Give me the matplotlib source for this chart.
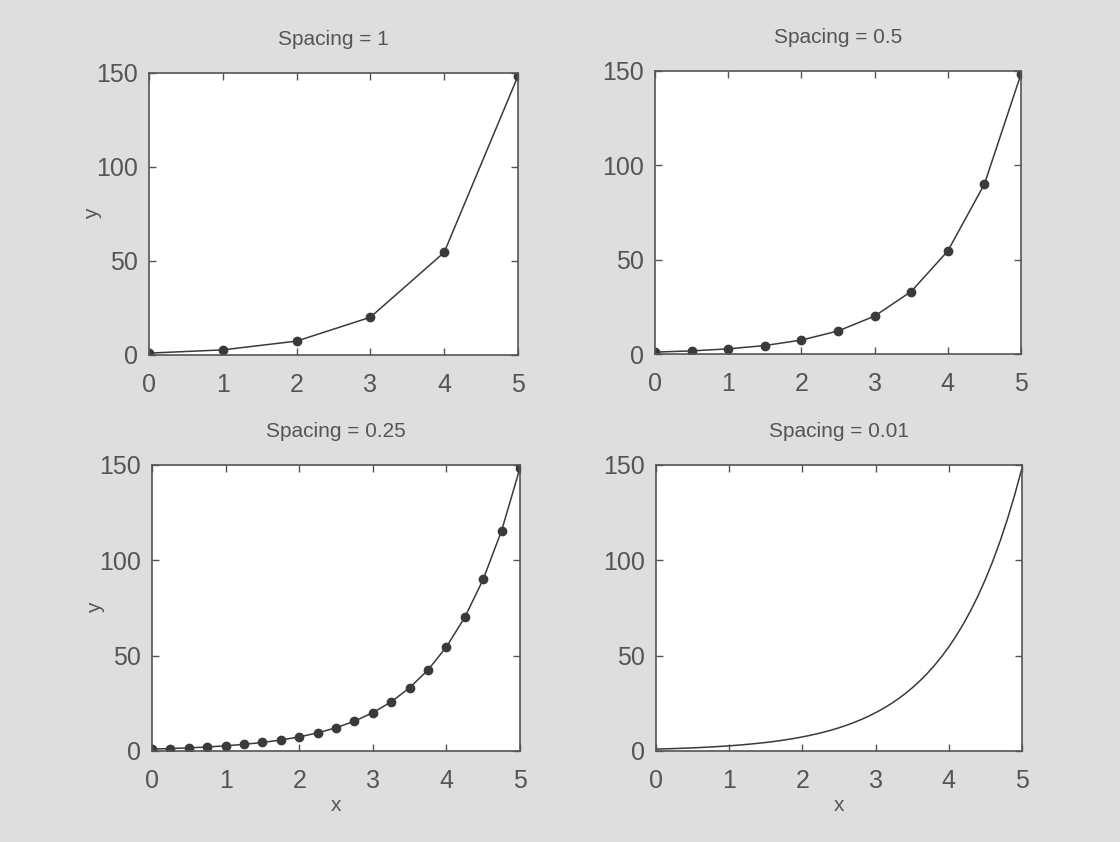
import matplotlib.pyplot as plt

plt.rcParams['font.family'] = ['Liberation Sans', 'DejaVu Sans']

# sampled y = e^x values at each step size
x_1 = [0, 1, 2, 3, 4, 5]
y_1 = [1.0, 2.72, 7.39, 20.09, 54.6, 148.41]

x_05 = [0, 0.5, 1, 1.5, 2, 2.5, 3, 3.5, 4, 4.5, 5]
y_05 = [1.0, 1.65, 2.72, 4.48, 7.39, 12.18, 20.09, 33.12, 54.6, 90.02, 148.41]

x_025 = [0, 0.25, 0.5, 0.75, 1, 1.25, 1.5, 1.75, 2, 2.25, 2.5,
         2.75, 3, 3.25, 3.5, 3.75, 4, 4.25, 4.5, 4.75, 5]
y_025 = [1.0, 1.28, 1.65, 2.12, 2.72, 3.49, 4.48, 5.75, 7.39, 9.49, 12.18,
         15.64, 20.09, 25.79, 33.12, 42.52, 54.6, 70.11, 90.02, 115.58, 148.41]

x_fine = [i / 10 for i in range(51)]
y_fine = [1.0, 1.11, 1.22, 1.35, 1.49, 1.65, 1.82, 2.01, 2.23, 2.46,
          2.72, 3.0, 3.32, 3.67, 4.06, 4.48, 4.95, 5.47, 6.05, 6.69,
          7.39, 8.17, 9.03, 9.97, 11.02, 12.18, 13.46, 14.88, 16.44, 18.17,
          20.09, 22.2, 24.53, 27.11, 29.96, 33.12, 36.6, 40.45, 44.7, 49.4,
          54.6, 60.34, 66.69, 73.7, 81.45, 90.02, 99.48, 109.95, 121.51, 134.29,
          148.41]

titles = ['Spacing = 1', 'Spacing = 0.5', 'Spacing = 0.25', 'Spacing = 0.01']
xticks = [0, 1, 2, 3, 4, 5]
yticks = [0, 50, 100, 150]

W, H = 1120, 842
fig = plt.figure(figsize=(W / 100, H / 100), dpi=100, facecolor='#dedede')

# axes boxes in pixels: left, right, top, bottom
boxes = [(149, 518, 73, 355), (655, 1021, 71, 354),
         (152, 520, 465, 751), (656, 1022, 465, 751)]
series = [(x_1, y_1, True), (x_05, y_05, True),
          (x_025, y_025, True), (x_fine, y_fine, False)]

txt = '#555555'
line_c = '#3a3a3a'

for k, ((l, r, t, b), (xs, ys, dots)) in enumerate(zip(boxes, series)):
    ax = fig.add_axes([l / W, 1 - b / H, (r - l) / W, (b - t) / H])
    ax.set_facecolor('white')
    if dots:
        ax.plot(xs, ys, '-o', color=line_c, lw=1.1, ms=6, mfc=line_c, mec=line_c)
    else:
        ax.plot(xs, ys, '-', color=line_c, lw=1.1)
    ax.set_xlim(0, 5)
    ax.set_ylim(0, 150)
    ax.set_xticks(xticks)
    ax.set_yticks(yticks)
    ax.tick_params(direction='in', top=True, right=True, length=5, width=1,
                   color='#555555', labelcolor=txt, labelsize=18)
    ax.tick_params(axis='x', pad=13)
    ax.tick_params(axis='y', pad=8)
    for s in ax.spines.values():
        s.set_color('#555555')
        s.set_linewidth(1.2)
    ax.set_title(titles[k], fontsize=15, color=txt, pad=20.5)
    if k in (0, 2):
        ax.set_ylabel('y', fontsize=15, color=txt, labelpad=-4)
    if k in (2, 3):
        ax.set_xlabel('x', fontsize=15, color=txt, labelpad=2)

fig.savefig('out.png', dpi=100, facecolor=fig.get_facecolor())
